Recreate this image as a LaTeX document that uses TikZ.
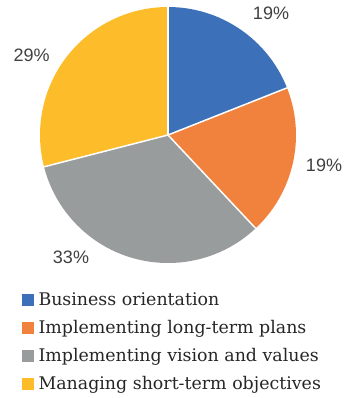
\documentclass[tikz,border=0pt]{standalone}
\usepackage{fontspec}
\setmainfont{DejaVu Serif}
\newfontfamily\pctfont{Liberation Sans}
\definecolor{ctext}{HTML}{404040}
\definecolor{lblue}{HTML}{3C71B9}
\definecolor{lorange}{HTML}{F0823D}
\definecolor{lgray}{HTML}{999C9D}
\definecolor{lyellow}{HTML}{FDBD2A}
\begin{document}
\begin{tikzpicture}[x=1pt,y=-1pt,
  slice/.style={draw=white,line width=1.5pt,line join=round},
  pct/.style={font=\pctfont\fontsize{18}{20}\selectfont,text=ctext,inner sep=0pt},
  legtext/.style={font=\fontsize{17.4}{20}\selectfont,text=black!85,anchor=base west,inner sep=0pt},
  legbox/.style={minimum size=11.5pt,inner sep=0pt}]
\useasboundingbox (0,0) rectangle (347,398);
\coordinate (c) at (168,135);
\fill[lblue]   (c) -- ++(-90:128) arc[start angle=-90,end angle=-21.6,radius=128] -- cycle;
\fill[lorange] (c) -- ++(-21.6:128) arc[start angle=-21.6,end angle=46.8,radius=128] -- cycle;
\fill[lgray]   (c) -- ++(46.8:128) arc[start angle=46.8,end angle=165.6,radius=128] -- cycle;
\fill[lyellow] (c) -- ++(165.6:128) arc[start angle=165.6,end angle=270,radius=128] -- cycle;
\draw[slice] (c) -- ++(-90:128);
\draw[slice] (c) -- ++(-21.6:128);
\draw[slice] (c) -- ++(46.8:128);
\draw[slice] (c) -- ++(165.6:128);
\node[pct] (p1) at (271,13.8) {19\%};
\node[pct] (p2) at (324,165.5) {19\%};
\node[pct] (p3) at (71,257) {33\%};
\node[pct] (p4) at (31.7,55.8) {29\%};
\node[legbox,fill=lblue]   (b1) at (28.2,300) {};
\node[legbox,fill=lorange] (b2) at (28.2,328) {};
\node[legbox,fill=lgray]   (b3) at (28.2,356) {};
\node[legbox,fill=lyellow] (b4) at (28.2,384) {};
\node[legtext] (t1) at (38.3,305.8) {Business orientation};
\node[legtext] (t2) at (38.3,333.8) {Implementing long-term plans};
\node[legtext] (t3) at (38.3,361.8) {Implementing vision and values};
\node[legtext] (t4) at (38.3,389.8) {Managing short-term objectives};
\end{tikzpicture}
\end{document}
